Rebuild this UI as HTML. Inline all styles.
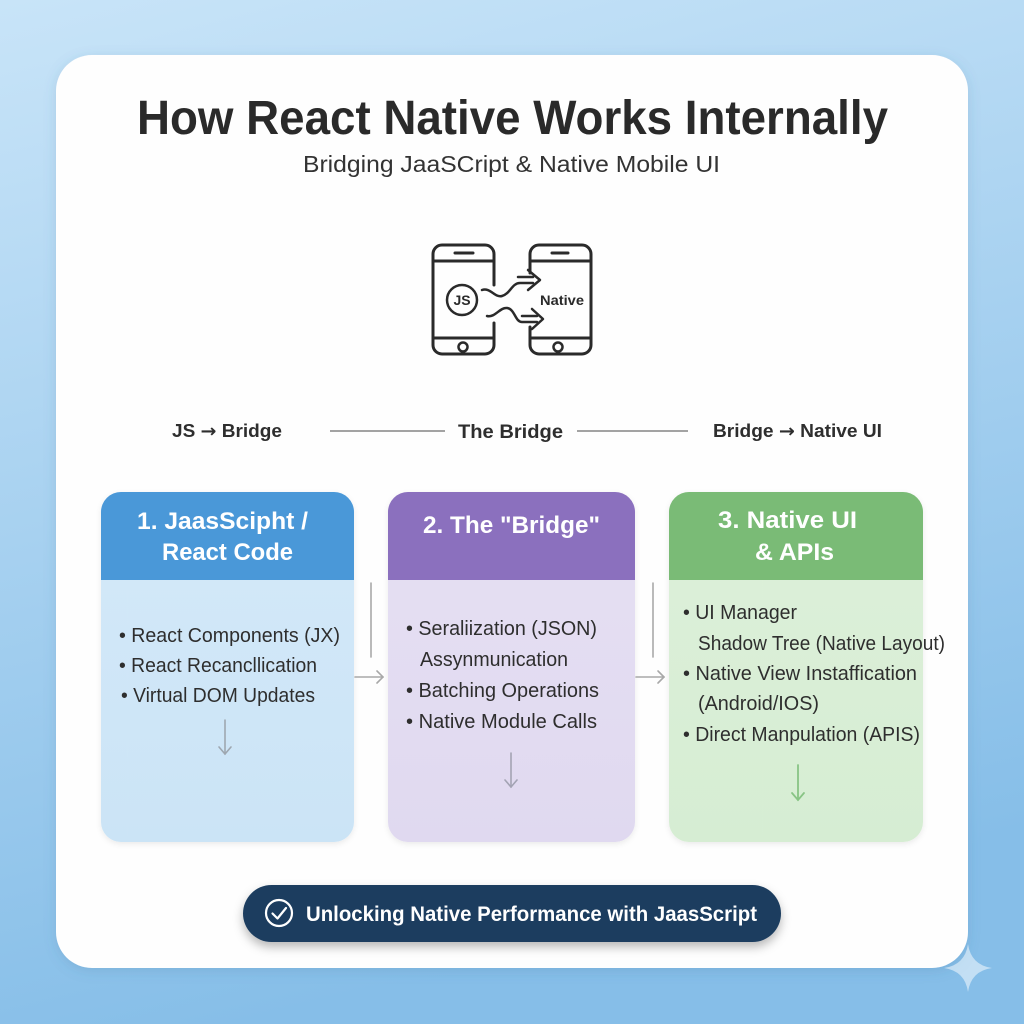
<!DOCTYPE html>
<html>
<head>
<meta charset="utf-8">
<style>
  html,body{margin:0;padding:0;width:1024px;height:1024px;overflow:hidden;}
  svg{display:block;}
  text{font-family:"Liberation Sans", Arial, sans-serif;}
</style>
</head>
<body>
<svg width="1024" height="1024" viewBox="0 0 1024 1024" xmlns="http://www.w3.org/2000/svg">
  <defs>
    <linearGradient id="bg" x1="0" y1="0" x2="0.25" y2="1">
      <stop offset="0" stop-color="#c8e4f8"/>
      <stop offset="1" stop-color="#86bee8"/>
    </linearGradient>
    <linearGradient id="b1" x1="0" y1="0" x2="0" y2="1">
      <stop offset="0" stop-color="#d4e9f9"/>
      <stop offset="1" stop-color="#cbe4f6"/>
    </linearGradient>
    <linearGradient id="b2" x1="0" y1="0" x2="0" y2="1">
      <stop offset="0" stop-color="#e6e0f3"/>
      <stop offset="1" stop-color="#e0d9f0"/>
    </linearGradient>
    <linearGradient id="b3" x1="0" y1="0" x2="0" y2="1">
      <stop offset="0" stop-color="#ddf0da"/>
      <stop offset="1" stop-color="#d6edd3"/>
    </linearGradient>
    <filter id="cardsh" x="-10%" y="-10%" width="120%" height="120%">
      <feDropShadow dx="0" dy="3" stdDeviation="6" flood-color="#3a6d95" flood-opacity="0.18"/>
    </filter>
    <filter id="boxsh" x="-10%" y="-10%" width="120%" height="120%">
      <feDropShadow dx="0" dy="2" stdDeviation="3" flood-color="#000" flood-opacity="0.08"/>
    </filter>
    <filter id="pillsh" x="-10%" y="-30%" width="120%" height="180%">
      <feDropShadow dx="0" dy="5" stdDeviation="5" flood-color="#000" flood-opacity="0.28"/>
    </filter>
  </defs>

  <!-- background -->
  <rect x="0" y="0" width="1024" height="1024" fill="url(#bg)"/>

  <!-- main card -->
  <rect x="56" y="55" width="912" height="913" rx="36" fill="#fefefe" filter="url(#cardsh)"/>

  <!-- star -->
  <path d="M968,944 Q971,965 992,968 Q971,971 968,992 Q965,971 944,968 Q965,965 968,944 Z" fill="#ffffff" fill-opacity="0.5"/>

  <!-- title -->
  <text x="137" y="134" font-size="48" font-weight="bold" fill="#2a2a2a" textLength="751" lengthAdjust="spacingAndGlyphs">How React Native Works Internally</text>
  <text x="303" y="172" font-size="23" fill="#333333" textLength="417" lengthAdjust="spacingAndGlyphs">Bridging JaaSCript &amp; Native Mobile UI</text>

  <!-- phone icon -->
  <g fill="none" stroke="#2a2a2a" stroke-width="3" stroke-linecap="round" stroke-linejoin="round">
    <path d="M494,285 V254 A9,9 0 0 0 485,245 H442 A9,9 0 0 0 433,254 V345 A9,9 0 0 0 442,354 H485 A9,9 0 0 0 494,345 V323"/>
    <path d="M433,261 H494"/>
    <path d="M433,338 H494"/>
    <path d="M455,253 H473"/>
    <circle cx="463" cy="347" r="4.5" stroke-width="2.5"/>

    <path d="M530,273 V254 A9,9 0 0 1 539,245 H582 A9,9 0 0 1 591,254 V345 A9,9 0 0 1 582,354 H539 A9,9 0 0 1 530,345 V327"/>
    <path d="M530,261 H591"/>
    <path d="M530,338 H591"/>
    <path d="M552,253 H568"/>
    <circle cx="558" cy="347" r="4.5" stroke-width="2.5"/>

    <circle cx="462" cy="300" r="15" stroke-width="2.5"/>

    <!-- waves -->
    <path d="M482,290 C490,287 495,298 502,296 C510,294 512,283 520,283 L533,283" stroke-width="2.5"/>
    <path d="M518,277 H533" stroke-width="2.5"/>
    <path d="M528,270 L540,280 L528,290" stroke-width="2.5"/>

    <path d="M487,316 C495,318 500,307 507,308 C515,309 515,322 522,322 L537,322" stroke-width="2.5"/>
    <path d="M522,316 H537" stroke-width="2.5"/>
    <path d="M532,309 L543,319 L532,329" stroke-width="2.5"/>
  </g>
  <text x="462" y="305" font-size="14" font-weight="bold" fill="#2a2a2a" text-anchor="middle">JS</text>
  <text x="540" y="305" font-size="14" font-weight="bold" fill="#2a2a2a" textLength="44" lengthAdjust="spacingAndGlyphs">Native</text>

  <!-- labels row -->
  <text x="172" y="437" font-size="18" font-weight="bold" fill="#2e2e2e" textLength="110" lengthAdjust="spacingAndGlyphs">JS <tspan font-family="DejaVu Sans, sans-serif">→</tspan> Bridge</text>
  <line x1="330" y1="431" x2="445" y2="431" stroke="#a3a3a3" stroke-width="2"/>
  <text x="458" y="438" font-size="19" font-weight="bold" fill="#2e2e2e" textLength="105" lengthAdjust="spacingAndGlyphs">The Bridge</text>
  <line x1="577" y1="431" x2="688" y2="431" stroke="#a3a3a3" stroke-width="2"/>
  <text x="713" y="437" font-size="18" font-weight="bold" fill="#2e2e2e" textLength="169" lengthAdjust="spacingAndGlyphs">Bridge <tspan font-family="DejaVu Sans, sans-serif">→</tspan> Native UI</text>

  <!-- card 1 -->
  <g filter="url(#boxsh)">
    <rect x="101" y="492" width="253" height="350" rx="20" fill="url(#b1)"/>
  </g>
  <path d="M101,580 V512 A20,20 0 0 1 121,492 H334 A20,20 0 0 1 354,512 V580 Z" fill="#4a98d8"/>
  <text x="137" y="529" font-size="24" font-weight="bold" fill="#ffffff" textLength="171" lengthAdjust="spacingAndGlyphs">1. JaasScipht /</text>
  <text x="162" y="560" font-size="24" font-weight="bold" fill="#ffffff" textLength="131" lengthAdjust="spacingAndGlyphs">React Code</text>
  <g font-size="20" fill="#2e2e2e">
    <text x="119" y="642" textLength="221" lengthAdjust="spacingAndGlyphs">• React Components (JX)</text>
    <text x="119" y="672" textLength="198" lengthAdjust="spacingAndGlyphs">• React Recancllication</text>
    <text x="121" y="702" textLength="194" lengthAdjust="spacingAndGlyphs">• Virtual DOM Updates</text>
  </g>
  <g fill="none" stroke="#9ea7b0" stroke-width="1.6" stroke-linecap="round">
    <path d="M225,720 V754"/>
    <path d="M219,747 L225,754 L231,747"/>
  </g>

  <!-- connector 1-2 -->
  <g fill="none" stroke="#a8a8a8" stroke-width="1.6" stroke-linecap="round">
    <path d="M371,583 V657"/>
    <path d="M355,677 H383"/>
    <path d="M377,671 L383,677 L377,683"/>
  </g>

  <!-- card 2 -->
  <g filter="url(#boxsh)">
    <rect x="388" y="492" width="247" height="350" rx="20" fill="url(#b2)"/>
  </g>
  <path d="M388,580 V512 A20,20 0 0 1 408,492 H615 A20,20 0 0 1 635,512 V580 Z" fill="#8b70be"/>
  <text x="423" y="533" font-size="24" font-weight="bold" fill="#ffffff" textLength="177" lengthAdjust="spacingAndGlyphs">2. The "Bridge"</text>
  <g font-size="20" fill="#2e2e2e">
    <text x="406" y="635" textLength="191" lengthAdjust="spacingAndGlyphs">• Seraliization (JSON)</text>
    <text x="420" y="666" textLength="148" lengthAdjust="spacingAndGlyphs">Assynmunication</text>
    <text x="406" y="697" textLength="193" lengthAdjust="spacingAndGlyphs">• Batching Operations</text>
    <text x="406" y="728" textLength="191" lengthAdjust="spacingAndGlyphs">• Native Module Calls</text>
  </g>
  <g fill="none" stroke="#a3a3b3" stroke-width="1.6" stroke-linecap="round">
    <path d="M511,753 V787"/>
    <path d="M505,780 L511,787 L517,780"/>
  </g>

  <!-- connector 2-3 -->
  <g fill="none" stroke="#a8a8a8" stroke-width="1.6" stroke-linecap="round">
    <path d="M653,583 V657"/>
    <path d="M636,677 H664"/>
    <path d="M658,671 L664,677 L658,683"/>
  </g>

  <!-- card 3 -->
  <g filter="url(#boxsh)">
    <rect x="669" y="492" width="254" height="350" rx="20" fill="url(#b3)"/>
  </g>
  <path d="M669,580 V512 A20,20 0 0 1 689,492 H903 A20,20 0 0 1 923,512 V580 Z" fill="#7abb76"/>
  <text x="718" y="528" font-size="24" font-weight="bold" fill="#ffffff" textLength="139" lengthAdjust="spacingAndGlyphs">3. Native UI</text>
  <text x="755" y="560" font-size="24" font-weight="bold" fill="#ffffff" textLength="79" lengthAdjust="spacingAndGlyphs">&amp; APIs</text>
  <g font-size="20" fill="#2e2e2e">
    <text x="683" y="619" textLength="114" lengthAdjust="spacingAndGlyphs">• UI Manager</text>
    <text x="698" y="650" textLength="247" lengthAdjust="spacingAndGlyphs">Shadow Tree (Native Layout)</text>
    <text x="683" y="680" textLength="234" lengthAdjust="spacingAndGlyphs">• Native View Instaffication</text>
    <text x="698" y="710" textLength="121" lengthAdjust="spacingAndGlyphs">(Android/IOS)</text>
    <text x="683" y="741" textLength="237" lengthAdjust="spacingAndGlyphs">• Direct Manpulation (APIS)</text>
  </g>
  <g fill="none" stroke="#88c485" stroke-width="1.8" stroke-linecap="round">
    <path d="M798,765 V800"/>
    <path d="M792,793 L798,800 L804,793"/>
  </g>

  <!-- bottom pill -->
  <rect x="243" y="885" width="538" height="57" rx="28.5" fill="#1c3d5f" filter="url(#pillsh)"/>
  <circle cx="279" cy="913" r="13" fill="none" stroke="#ffffff" stroke-width="2.2"/>
  <path d="M272.5,913.5 L277.5,918.5 L286,908" fill="none" stroke="#ffffff" stroke-width="2.2" stroke-linecap="round" stroke-linejoin="round"/>
  <text x="306" y="921" font-size="21" font-weight="bold" fill="#ffffff" textLength="451" lengthAdjust="spacingAndGlyphs">Unlocking Native Performance with JaasScript</text>
</svg>
</body>
</html>
